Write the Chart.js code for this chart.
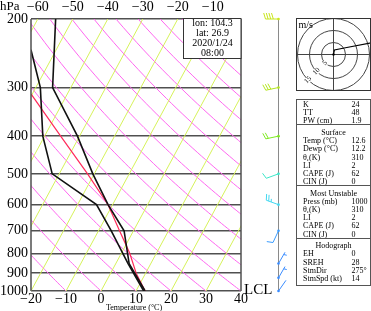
<!DOCTYPE html>
<html><head><meta charset="utf-8">
<script src="https://cdn.jsdelivr.net/npm/chart.js@4.4.1/dist/chart.umd.min.js"></script>
<style>html,body{margin:0;padding:0;background:#fff;overflow:hidden}#wrap{width:371px;height:311px;position:relative}</style>
</head><body><div id="wrap"><canvas id="c" width="371" height="311"></canvas></div>
<script>
// ---------------- data ----------------
const pressureTicks = [200, 300, 400, 500, 600, 700, 800, 900, 1000];
const tempTicks = [-20, -10, 0, 10, 20, 30, 40];
const topTempTicks = [-60, -50, -40, -30, -20, -10];

const tempPres = [1000, 850, 700, 600, 500, 400, 300, 200];
const tempVals = [12.6, 3.8, -2.7, -11.3, -20.4, -30.6, -45.2, -54.9];

const dewPres = [1000, 850, 700, 600, 500, 400, 300, 240];
const dewVals = [12.2, 3.5, -6.4, -14.6, -32.0, -40.5, -48.7, -57.2];

const parcelPres = [1000, 900, 800, 700, 600, 500, 400, 312];
const parcelVals = [12.6, 7.3, 2.4, -4.0, -11.3, -21.9, -35.4, -50.3];

const isotherms = [-60, -50, -40, -30, -20, -10, 0, 10, 20, 30, 40];          // deg C
const dryAdiabats = [263.15, 273.15, 283.15, 293.15, 303.15, 313.15, 323.15, 333.15,
  343.15, 353.15, 363.15, 373.15, 383.15, 393.15, 403.15, 413.15, 423.15, 433.15]; // theta K

const windPres = [1000, 925, 850, 700, 600, 500, 400, 300, 200];
const windDir  = [35, 30, 30, 205, 290, 250, 258, 258, 270];
const windSpd  = [2, 5, 5, 10, 25, 10, 20, 30, 40];

const hodoU = [0, 0.4, 5, 15.7];
const hodoV = [0, 1.9, 2.8, 4.9];
const hodoRings = [5, 10, 15];

const lclPres = 995;

const stationInfo = ['lon: 104.3', 'lat: 26.9', '2020/1/24', '08:00'];

const sectionTitles = [null, 'Surface', 'Most Unstable', 'Hodograph'];
const sectionLabels = [
  ['K', 'TT', 'PW (cm)'],
  ['Temp (°C)', 'Dewp (°C)', 'θe(K)', 'LI', 'CAPE (J)', 'CIN (J)'],
  ['Press (mb)', 'θe(K)', 'LI', 'CAPE (J)', 'CIN (J)'],
  ['EH', 'SREH', 'StmDir', 'StmSpd (kt)']
];
const sectionValues = [
  ['24', '48', '1.9'],
  ['12.6', '12.2', '310', '2', '62', '0'],
  ['1000', '310', '2', '62', '0'],
  ['0', '28', '275°', '14']
];

// ---------------- styles / geometry ----------------
const SKEW = 60;   // deg C per decade of pressure
const SERIF = "'Liberation Serif','Times New Roman',serif";
const barbColors = ['#3a8cff', '#3a8cff', '#3a8cff', '#3a9cff', '#44d8f0', '#3ce6c8', '#7eea22', '#b4e61e', '#c8e61c'];
const ISO_COLOR = '#d6f25a';
const ADI_COLOR = '#ff66f0';

const skewX = (t, p) => t + SKEW * Math.log10(1000 / p);
const profile = (ps, ts) => ps.map((p, i) => ({ x: skewX(ts[i], p), y: p }));
const minus = v => v < 0 ? '\u2212' + Math.abs(v) : String(v);

const datasets = [];
datasets.push({ data: profile(tempPres, tempVals), borderColor: '#111', borderWidth: 1.6 });
datasets.push({ data: profile(dewPres, dewVals), borderColor: '#111', borderWidth: 1.6 });
datasets.push({ data: profile(parcelPres, parcelVals), borderColor: '#ff2a5a', borderWidth: 1.2 });
isotherms.forEach(t => datasets.push({
  data: [{ x: skewX(t, 1000), y: 1000 }, { x: skewX(t, 200), y: 200 }],
  borderColor: ISO_COLOR, borderWidth: 1
}));
const adiSample = [];
for (let p = 1000; p >= 200; p -= 10) adiSample.push(p);
dryAdiabats.forEach(th => datasets.push({
  data: adiSample.map(p => ({ x: skewX(th * Math.pow(p / 1000, 0.286) - 273.15, p), y: p })),
  borderColor: ADI_COLOR, borderWidth: 1
}));
datasets.forEach(d => { d.pointRadius = 0; d.tension = 0; d.fill = false; });

function drawBarb(ctx, x, y, dir, spd, color) {
  const L = 13, F = 6, gap = 2.6;
  const r = dir * Math.PI / 180;
  const sx = Math.sin(r), sy = -Math.cos(r);
  const px = -sy, py = sx;
  const tx = x + sx * L, ty = y + sy * L;
  ctx.save();
  ctx.strokeStyle = color; ctx.fillStyle = color; ctx.lineWidth = 1;
  ctx.beginPath(); ctx.moveTo(x, y); ctx.lineTo(tx, ty); ctx.stroke();
  let s = Math.round(spd / 5) * 5, pos = 0;
  while (s >= 10) {
    const bx = tx - sx * pos, by = ty - sy * pos;
    ctx.beginPath(); ctx.moveTo(bx, by);
    ctx.lineTo(bx + px * F + sx * F * 0.3, by + py * F + sy * F * 0.3); ctx.stroke();
    pos += gap; s -= 10;
  }
  if (s >= 5) {
    if (pos === 0) pos = gap;
    const bx = tx - sx * pos, by = ty - sy * pos;
    ctx.beginPath(); ctx.moveTo(bx, by);
    ctx.lineTo(bx + px * F * 0.5 + sx * F * 0.15, by + py * F * 0.5 + sy * F * 0.15); ctx.stroke();
  }
  ctx.beginPath(); ctx.arc(x, y, 1.3, 0, Math.PI * 2); ctx.fill();
  ctx.restore();
}

const decor = {
  id: 'decor',
  afterDraw(chart) {
    const ctx = chart.ctx, a = chart.chartArea, ys = chart.scales.y;
    ctx.save();
    // frame sides
    ctx.strokeStyle = '#505050'; ctx.lineWidth = 1.5;
    ctx.beginPath(); ctx.moveTo(a.left, a.top); ctx.lineTo(a.left, a.bottom);
    ctx.moveTo(a.right, a.top); ctx.lineTo(a.right, a.bottom); ctx.stroke();

    // station info box
    ctx.fillStyle = '#fff'; ctx.fillRect(183.5, 18.5, a.right - 183.5, 40);
    ctx.strokeStyle = '#333'; ctx.lineWidth = 1;
    ctx.strokeRect(183.5, 18.5, a.right - 183.5, 40);
    ctx.fillStyle = '#000'; ctx.font = '10px ' + SERIF; ctx.textAlign = 'center'; ctx.textBaseline = 'middle';
    stationInfo.forEach((s, i) => ctx.fillText(s, 212.5, 23.5 + i * 10));

    // hPa and axis title
    ctx.textAlign = 'left'; ctx.textBaseline = 'alphabetic';
    ctx.font = '13px ' + SERIF; ctx.fillText('hPa', 0, 10);
    ctx.textAlign = 'center'; ctx.font = '8px ' + SERIF;
    ctx.fillText('Temperature (°C)', 134, 310);
    // LCL
    ctx.textAlign = 'left'; ctx.textBaseline = 'middle'; ctx.font = '15px ' + SERIF;
    ctx.fillText('LCL', 244, ys.getPixelForValue(lclPres));

    // wind staff + barbs
    const sxp = 278.5;
    ctx.strokeStyle = '#8a8a8a'; ctx.lineWidth = 1;
    ctx.beginPath(); ctx.moveTo(sxp, ys.getPixelForValue(200)); ctx.lineTo(sxp, ys.getPixelForValue(1000)); ctx.stroke();
    windPres.forEach((p, i) => drawBarb(ctx, sxp, ys.getPixelForValue(p), windDir[i], windSpd[i], barbColors[i]));

    // hodograph
    const hx0 = 296.5, hy0 = 18.5, hw = 74, hh = 72;
    const cx = hx0 + hw / 2, cy = hy0 + hh / 2, k = 12 / 5;
    ctx.save();
    ctx.beginPath(); ctx.rect(hx0, hy0, hw, hh); ctx.clip();
    ctx.strokeStyle = '#444'; ctx.lineWidth = 1;
    hodoRings.forEach(r => { ctx.beginPath(); ctx.arc(cx, cy, r * k, 0, Math.PI * 2); ctx.stroke(); });
    ctx.beginPath(); ctx.moveTo(hx0, cy); ctx.lineTo(hx0 + hw, cy); ctx.moveTo(cx, hy0); ctx.lineTo(cx, hy0 + hh); ctx.stroke();
    ctx.strokeStyle = '#000'; ctx.lineWidth = 1.2;
    ctx.beginPath();
    hodoU.forEach((u, i) => { const X = cx + u * k, Y = cy - hodoV[i] * k; i ? ctx.lineTo(X, Y) : ctx.moveTo(X, Y); });
    ctx.stroke();
    ctx.fillStyle = '#000'; ctx.beginPath(); ctx.arc(cx, cy, 1.2, 0, Math.PI * 2); ctx.fill();
    ctx.font = '7px ' + SERIF; ctx.textAlign = 'center'; ctx.textBaseline = 'middle';
    hodoRings.forEach(r => {
      const d = r * k / Math.SQRT2;
      ctx.save(); ctx.translate(cx - d, cy + d); ctx.rotate(-Math.PI / 4);
      ctx.fillStyle = '#fff'; ctx.fillRect(-4, -3, 8, 6);
      ctx.fillStyle = '#000'; ctx.fillText(String(r), 0, 0); ctx.restore();
    });
    ctx.restore();
    ctx.strokeStyle = '#333'; ctx.lineWidth = 1; ctx.strokeRect(hx0, hy0, hw, hh);
    ctx.fillStyle = '#000'; ctx.font = '10px ' + SERIF; ctx.textAlign = 'left'; ctx.textBaseline = 'alphabetic';
    ctx.fillText('m/s', hx0 + 2, hy0 + 9);

    // index table
    const tx0 = 296.5, ty0 = 99.5, tw = 74, rowH = 8.2, divH = 3.3;
    let yy = 105, dividers = [];
    ctx.font = '8px ' + SERIF; ctx.textBaseline = 'middle';
    sectionLabels.forEach((labels, si) => {
      if (si > 0) { dividers.push(yy - rowH / 2 - divH / 2 + 0.5); yy += divH; }
      if (sectionTitles[si]) {
        ctx.textAlign = 'center'; ctx.fillText(sectionTitles[si], tx0 + tw / 2, yy); yy += rowH;
      }
      labels.forEach((lab, j) => {
        ctx.textAlign = 'left';
        if (lab.startsWith('θe')) {
          ctx.fillText('θ', 303, yy);
          const w = ctx.measureText('θ').width;
          ctx.font = '5px ' + SERIF; ctx.fillText('e', 303 + w, yy + 2);
          const w2 = ctx.measureText('e').width;
          ctx.font = '8px ' + SERIF; ctx.fillText(lab.slice(2), 303 + w + w2, yy);
        } else ctx.fillText(lab, 303, yy);
        ctx.fillText(sectionValues[si][j], 351.5, yy);
        yy += rowH;
      });
    });
    const tb = 285.5;
    ctx.strokeStyle = '#555'; ctx.lineWidth = 1;
    ctx.strokeRect(tx0, ty0, tw, tb - ty0);
    dividers.forEach(d => { const y = Math.round(d) + 0.5; ctx.beginPath(); ctx.moveTo(tx0, y); ctx.lineTo(tx0 + tw, y); ctx.stroke(); });
    ctx.restore();
  }
};

const topMin = -20 - SKEW * Math.log10(5), topMax = 40 - SKEW * Math.log10(5);

new Chart(document.getElementById('c'), {
  type: 'line',
  data: { datasets },
  options: {
    responsive: false, animation: false, devicePixelRatio: 1, parsing: true,
    layout: { padding: { left: 0, right: 130, top: 0, bottom: 0 } },
    plugins: { legend: { display: false }, tooltip: { enabled: false } },
    scales: {
      x: {
        type: 'linear', position: 'bottom', min: -20, max: 40,
        afterBuildTicks: s => { s.ticks = tempTicks.map(v => ({ value: v })); },
        afterFit: s => { s.height = 20; },
        grid: { display: false, drawTicks: false }, border: { display: false },
        ticks: { padding: 0, color: '#000', font: { family: SERIF, size: 14 }, callback: minus, autoSkip: false, maxRotation: 0 }
      },
      x2: {
        type: 'linear', position: 'top', min: topMin, max: topMax,
        afterBuildTicks: s => { s.ticks = topTempTicks.map(v => ({ value: v })); },
        afterFit: s => { s.height = 19; },
        grid: { display: false, drawTicks: false }, border: { display: false },
        ticks: { padding: 3, color: '#000', font: { family: SERIF, size: 14 }, callback: minus, autoSkip: false, maxRotation: 0 }
      },
      y: {
        type: 'logarithmic', reverse: true, min: 200, max: 1000,
        afterBuildTicks: s => { s.ticks = pressureTicks.map(v => ({ value: v })); },
        afterFit: s => { s.width = 31; },
        grid: { color: '#505050', lineWidth: 1.5, drawTicks: false }, border: { display: false },
        ticks: { padding: 3, color: '#000', font: { family: SERIF, size: 14 }, callback: v => String(v), autoSkip: false }
      }
    }
  },
  plugins: [decor]
});
</script></body></html>
